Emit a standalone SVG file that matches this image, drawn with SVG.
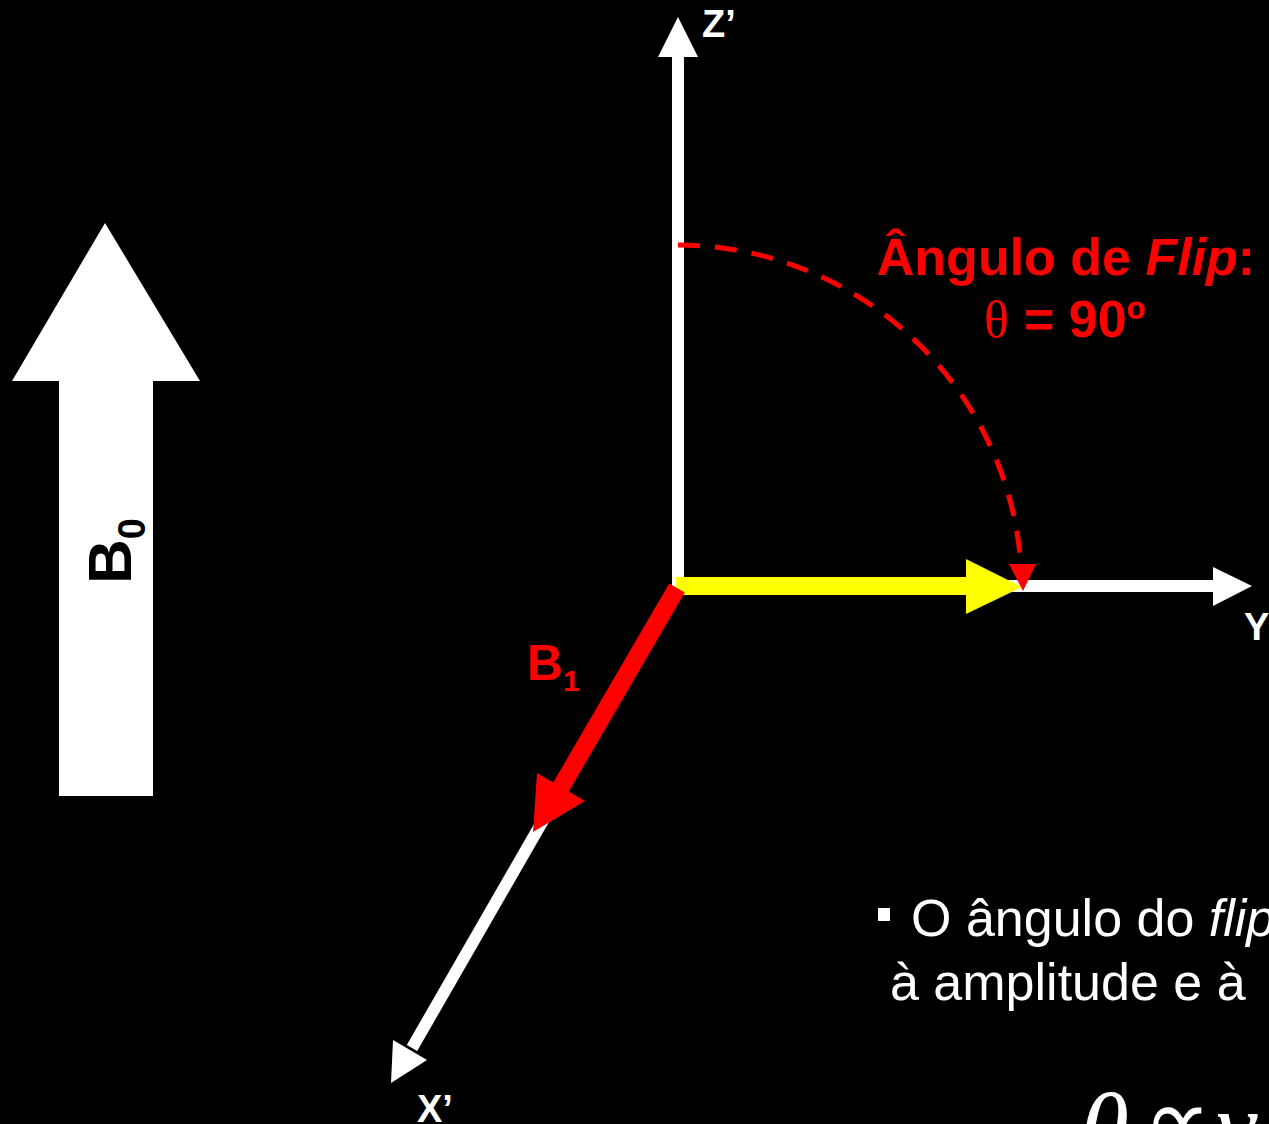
<svg xmlns="http://www.w3.org/2000/svg" width="1269" height="1124" viewBox="0 0 1269 1124">
<style>
.axis{stroke:#fff;stroke-width:12;fill:none}
.wfill{fill:#fff}
.lbl{font-family:"Liberation Sans",Arial,sans-serif;font-weight:bold;fill:#fff}
.red{fill:#ff0000}
.rtxt{font-family:"Liberation Sans",Arial,sans-serif;font-weight:bold;fill:#ff0000}
.body{font-family:"Liberation Sans",Arial,sans-serif;fill:#fff;font-size:52px}
</style>
<rect x="0" y="0" width="1269" height="1124" fill="#000"/>

<g id="b0">
  <polygon class="wfill" points="105,223 200,381 153,381 153,796 59,796 59,381 12,381"/>
  <text transform="translate(131,584) rotate(-90)" font-family="Liberation Sans, Arial, sans-serif" font-weight="bold" font-size="62" fill="#000">B<tspan font-size="38" dy="14">0</tspan></text>
</g>

<g id="connectors">
  <g id="z-axis">
    <line class="axis" x1="678" y1="586" x2="678" y2="52"/>
    <polygon class="wfill" points="678,17 658,57 698,57"/>
  </g>
  <g id="y-axis">
    <line class="axis" x1="678" y1="586" x2="1216" y2="586"/>
    <polygon class="wfill" points="1252,586 1213,567 1213,606"/>
  </g>
  <g id="x-axis">
    <line class="axis" x1="678" y1="586" x2="412" y2="1048" stroke-width="11"/>
    <polygon class="wfill" points="391,1083 393,1040 427,1060"/>
  </g>
  <g id="m-vector">
    <line x1="676" y1="586" x2="970" y2="586" stroke="#ffff00" stroke-width="18"/>
    <polygon fill="#ffff00" points="1022,587 966,559 966,614"/>
  </g>
  <g id="b1-vector">
    <line x1="677" y1="588" x2="554" y2="799" stroke="#ff0000" stroke-width="18"/>
    <polygon class="red" points="533,832 537,773 585,801"/>
  </g>
  <g id="flip-arc">
    <path d="M678,245 A345,345 0 0 1 1021,566" fill="none" stroke="#ff0000" stroke-width="5" stroke-dasharray="22,15"/>
    <polygon class="red" points="1023,591 1009,564 1036,564"/>
  </g>
</g>

<g id="label-z"><text class="lbl" x="702" y="37" font-size="38">Z’</text></g>
<g id="label-y"><text class="lbl" x="1244" y="640" font-size="38">Y</text></g>
<g id="label-x"><text class="lbl" x="417" y="1122" font-size="38">X’</text></g>
<g id="label-b1"><text class="rtxt" x="527" y="680" font-size="50">B<tspan font-size="30" dy="11">1</tspan></text></g>

<g id="flip-label">
  <text class="rtxt" x="1066" y="275" font-size="52" text-anchor="middle">Ângulo de <tspan font-style="italic">Flip</tspan>:</text>
  <text x="984" y="337" font-family="Liberation Serif, Times New Roman, serif" font-size="52" fill="#ff0000">θ</text>
  <text class="rtxt" x="1024" y="337" font-size="52">= 90º</text>
</g>

<g id="bullet-text">
  <rect x="878" y="908" width="12" height="13" fill="#fff"/>
  <text class="body" x="911" y="936">O ângulo do <tspan font-style="italic">flip</tspan></text>
  <text class="body" x="890" y="1000">à amplitude e à</text>
</g>

<g id="formula" font-family="Liberation Serif, Times New Roman, serif" font-style="italic" font-size="100" fill="#fff">
  <text x="1080" y="1162">θ</text>
  <text x="1143" y="1154" font-style="normal" font-size="96">∝</text>
  <text x="1216" y="1160">γ</text>
</g>
</svg>
